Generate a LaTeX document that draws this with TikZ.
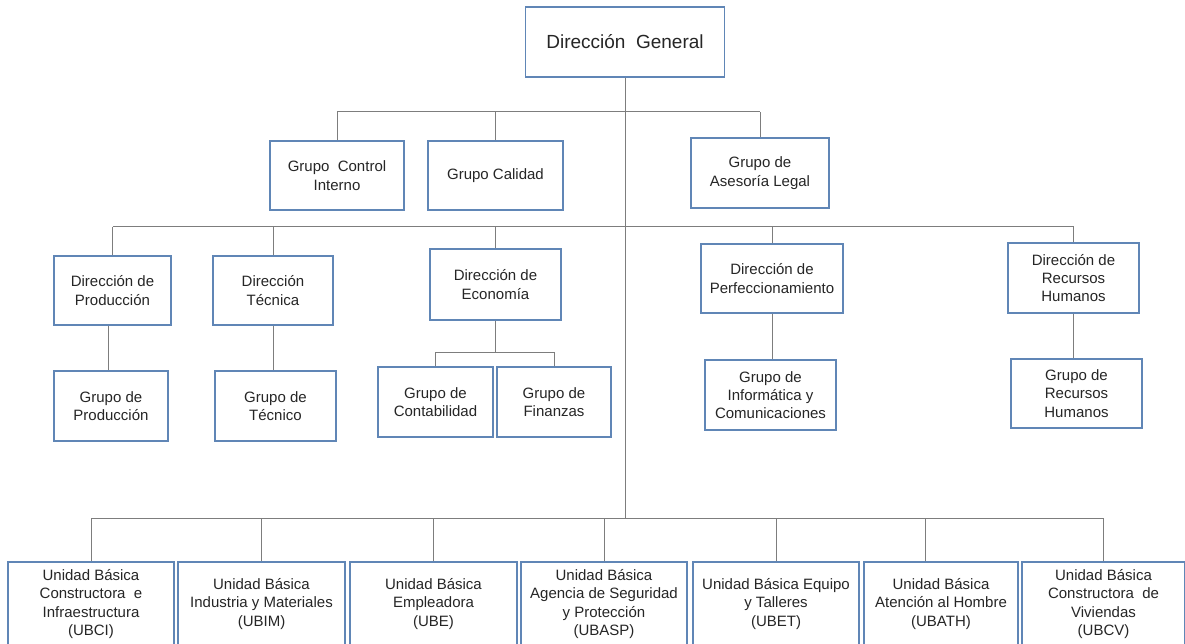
\documentclass[tikz,border=0pt]{standalone}
\usepackage{fontspec}
\setmainfont{Liberation Sans}
\usetikzlibrary{calc}
\definecolor{boxc}{RGB}{96,134,182}
\definecolor{linec}{RGB}{125,125,125}
\definecolor{txt}{RGB}{38,38,38}
\begin{document}
\begin{tikzpicture}[x=1pt,y=-1pt,
  box/.style={draw=boxc, line width=1.3pt, fill=white, inner sep=0pt, align=center,
    text=txt, font=\fontsize{15}{18.3}\selectfont},
  conn/.style={draw=linec, line width=1pt}]
\useasboundingbox (0,0) rectangle (1185,644);
\clip (0,0) rectangle (1185,644);
\fill[white] (0,0) rectangle (1185,644);

% bus levels
\coordinate (busA) at (0,112);
\coordinate (busB) at (0,227);
\coordinate (busC) at (0,518);
\coordinate (busD) at (0,352);

% top
\node[box, minimum width=199pt, minimum height=70pt, font=\fontsize{19}{22}\selectfont] (DG) at (625,42) {Dirección\ \ General};

\node[box, minimum width=134pt, minimum height=69pt] (GCI) at (337,175.5) {Grupo\ \ Control\\Interno};
\node[box, minimum width=135pt, minimum height=69pt] (GC) at (495.5,175.5) {Grupo Calidad};
\node[box, minimum width=138pt, minimum height=70pt] (GAL) at (760,173) {Grupo de\\Asesoría Legal};

% directions
\node[box, minimum width=117pt, minimum height=69pt] (DP) at (112.5,290.5) {Dirección de\\Producción};
\node[box, minimum width=120pt, minimum height=69pt] (DT) at (273,290.5) {Dirección\\Técnica};
\node[box, minimum width=131pt, minimum height=71pt] (DE) at (495.5,284.5) {Dirección de\\Economía};
\node[box, minimum width=142pt, minimum height=69pt] (DPF) at (772,278.5) {Dirección de\\Perfeccionamiento};
\node[box, minimum width=131pt, minimum height=70pt] (DRH) at (1073.5,278) {Dirección de\\Recursos\\Humanos};

% groups
\node[box, minimum width=114pt, minimum height=70pt] (GP) at (111,406) {Grupo de\\Producción};
\node[box, minimum width=121pt, minimum height=70pt] (GT) at (275.5,406) {Grupo de\\Técnico};
\node[box, minimum width=115pt, minimum height=70pt] (GCO) at (435.5,402) {Grupo de\\Contabilidad};
\node[box, minimum width=114pt, minimum height=70pt] (GF) at (554,402) {Grupo de\\Finanzas};
\node[box, minimum width=131pt, minimum height=70pt] (GIC) at (770.5,395) {Grupo de\\Informática y\\Comunicaciones};
\node[box, minimum width=131pt, minimum height=69pt] (GRH) at (1076.5,393.5) {Grupo de\\Recursos\\Humanos};

% units
\node[box, minimum width=166pt, minimum height=84pt] (U1) at (91,604) {Unidad Básica\\Constructora\ \ e\\Infraestructura\\(UBCI)};
\node[box, minimum width=167pt, minimum height=84pt] (U2) at (261.5,604) {Unidad Básica\\Industria y Materiales\\(UBIM)};
\node[box, minimum width=167pt, minimum height=84pt] (U3) at (433.5,604) {Unidad Básica\\Empleadora\\(UBE)};
\node[box, minimum width=166pt, minimum height=84pt] (U4) at (604,604) {Unidad Básica\\Agencia de Seguridad\\y Protección\\(UBASP)};
\node[box, minimum width=166pt, minimum height=84pt] (U5) at (776,604) {Unidad Básica Equipo\\y Talleres\\(UBET)};
\node[box, minimum width=154pt, minimum height=84pt] (U6) at (941,604) {Unidad Básica\\Atención al Hombre\\(UBATH)};
\node[box, minimum width=163pt, minimum height=84pt] (U7) at (1103.5,604) {Unidad Básica\\Constructora\ \ de\\Viviendas\\(UBCV)};

% connectors
\draw[conn] (DG.south) -- (DG.south |- busC);
\draw[conn] (GCI.north |- busA) -- (GAL.north |- busA);
\foreach \n in {GCI,GC,GAL} \draw[conn] (\n.north) -- (\n.north |- busA);
\draw[conn] (DP.north |- busB) -- (DRH.north |- busB);
\foreach \n in {DP,DT,DE,DPF,DRH} \draw[conn] (\n.north) -- (\n.north |- busB);
\draw[conn] (U1.north |- busC) -- (U7.north |- busC);
\foreach \n in {U1,U2,U3,U4,U5,U7} \draw[conn] (\n.north) -- (\n.north |- busC);
\coordinate (U6top) at ($(U6.north)+(-16,0)$);
\draw[conn] (U6top) -- (U6top |- busC);
\draw[conn] ($(DP.south)+(-4,0)$) -- ($(DP.south |- GP.north)+(-4,0)$);
\draw[conn] (DT.south) -- (DT.south |- GT.north);
\draw[conn] (DPF.south) -- (DPF.south |- GIC.north);
\draw[conn] (DRH.south) -- (DRH.south |- GRH.north);
\draw[conn] (DE.south) -- (DE.south |- busD);
\draw[conn] (GCO.north |- busD) -- (GF.north |- busD);
\foreach \n in {GCO,GF} \draw[conn] (\n.north) -- (\n.north |- busD);
\end{tikzpicture}
\end{document}
